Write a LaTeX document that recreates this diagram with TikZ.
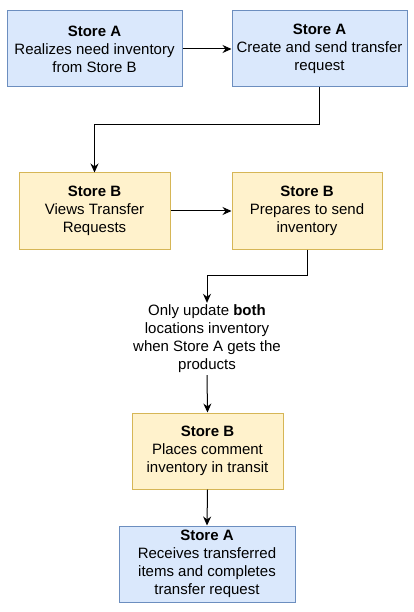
\documentclass[tikz,border=0pt]{standalone}
\usepackage{fontspec}
\setmainfont{Liberation Sans}
\usetikzlibrary{arrows.meta}
\definecolor{blueF}{HTML}{DAE8FC}
\definecolor{blueD}{HTML}{6C8EBF}
\definecolor{yelF}{HTML}{FFF2CC}
\definecolor{yelD}{HTML}{D6B656}
\begin{document}
\begin{tikzpicture}[x=1pt,y=-1pt,
  base/.style={draw, line width=1pt, minimum width=#1, minimum height=76pt, align=center,
    font=\fontsize{15}{18}\selectfont, inner sep=0pt},
  boxA/.style={base=#1, fill=blueF, draw=blueD},
  boxB/.style={base=#1, fill=yelF, draw=yelD},
  arr/.style={-{Stealth[length=9pt,width=8pt]}, line width=1pt, draw=black}]
\useasboundingbox (0,0) rectangle (414,612);
\node[boxA=175pt] (b1) at (94.5,49) {\textbf{Store A}\\Realizes need inventory\\from Store B};
\node[boxA=175pt] (b2) at (319.5,49) {\textbf{Store A}\\Create and send transfer\\request};
\node[boxB=151pt] (b3) at (94.5,211) {\textbf{Store B}\\Views Transfer\\Requests};
\node[boxB=150pt] (b4) at (307,211) {\textbf{Store B}\\Prepares to send\\inventory};
\node[align=center, font=\fontsize{15}{18}\selectfont, inner sep=2pt] (t) at (207,339)
  {Only update \textbf{both}\\locations inventory\\when Store A gets the\\products};
\node[boxB=151pt] (b5) at (207.5,451) {\textbf{Store B}\\Places comment\\inventory in transit};
\node[boxA=176pt] (b6) at (207,564) {\textbf{Store A}\\Receives transferred\\items and completes\\transfer request};
\draw[arr] (b1.east) -- (b2.west);
\draw[arr] (b2.south) -- ++(0,37) -| (b3.north);
\draw[arr] (b3.east) -- (b4.west);
\draw[arr] (b4.south) -- ++(0,26) -| (t.north);
\draw[arr] (t.south) -- (b5.north);
\draw[arr] (b5.south) -- (b6.north);
\end{tikzpicture}
\end{document}
